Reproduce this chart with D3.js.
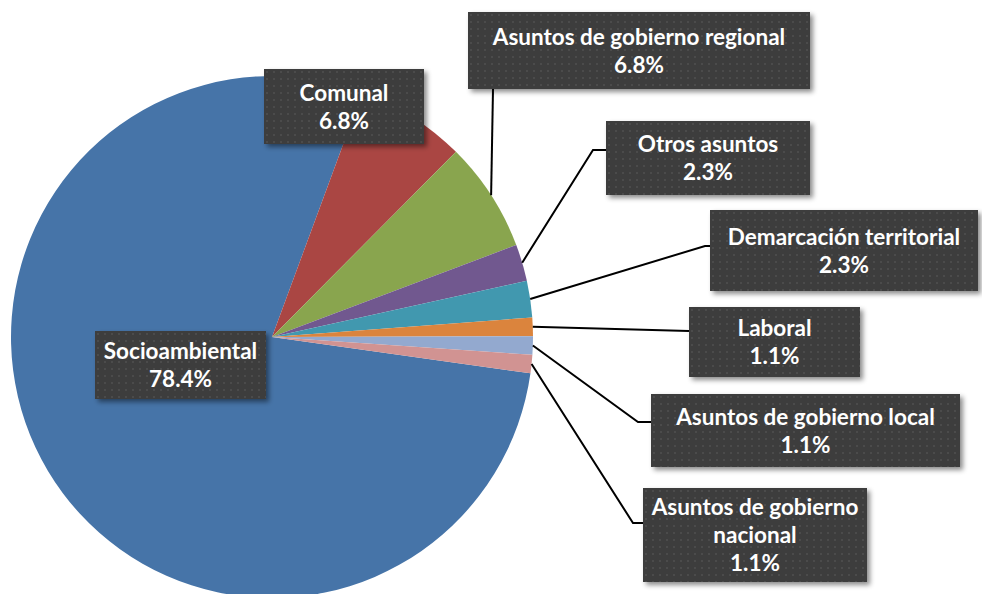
<!DOCTYPE html>
<html>
<head>
<meta charset="utf-8">
<script src="https://cdn.jsdelivr.net/npm/d3@7"></script>
<style>
  body { margin: 0; background: #fff; }
  svg { display: block; }
  .lbl text { font-family: Lato, "Open Sans", sans-serif; font-weight: 700; fill: #fff; }
</style>
</head>
<body>
<svg id="drawing_region"></svg>
<script>
// datos: número de conflictos por tipo (total 88)
const categories = [
  "Socioambiental", "Comunal", "Asuntos de gobierno regional", "Otros asuntos",
  "Demarcación territorial", "Laboral", "Asuntos de gobierno local", "Asuntos de gobierno nacional"
];
const counts = [69, 6, 6, 2, 2, 1, 1, 1];
const colors = ["#4674a8", "#aa4643", "#89a54e", "#71588f", "#4198af", "#db843d", "#93a9cf", "#d19392"];

// posición de las cajas de etiquetas (x, y, ancho, alto) y codo de la línea guía
const boxes = [
  {x: 95,  y: 331, w: 171, h: 68, line: false},
  {x: 264, y: 69,  w: 160, h: 75, line: false},
  {x: 468, y: 12,  w: 342, h: 77, elbow: [493, 89]},
  {x: 606, y: 121, w: 204, h: 74, elbow: [593, 150]},
  {x: 710, y: 210, w: 268, h: 81, elbow: [705, 246]},
  {x: 689, y: 307, w: 171, h: 70, elbow: [689, 331]},
  {x: 651, y: 394, w: 309, h: 73, elbow: [638, 422]},
  {x: 643, y: 488, w: 224, h: 94, elbow: [633, 523]}
];

const W = 982, H = 594;
const cx = 272, cy = 337, r = 261;
const total = d3.sum(counts);
const fmt = d3.format(".1%");

const svg = d3.select("#drawing_region").attr("width", W).attr("height", H);
const defs = svg.append("defs");

// textura punteada de las cajas
const pat = defs.append("pattern").attr("id", "dots")
  .attr("width", 7).attr("height", 7).attr("patternUnits", "userSpaceOnUse");
pat.append("rect").attr("width", 7).attr("height", 7).attr("fill", "#3e3e3e");
pat.append("rect").attr("x", 2).attr("y", 2).attr("width", 2).attr("height", 2).attr("fill", "#4b4b4b");

const shadow = defs.append("filter").attr("id", "shadow")
  .attr("x", "-10%").attr("y", "-10%").attr("width", "130%").attr("height", "140%");
shadow.append("feDropShadow").attr("dx", 3).attr("dy", 3).attr("stdDeviation", 2.5)
  .attr("flood-color", "#000").attr("flood-opacity", 0.45);

const data = categories.map((c, i) => ({name: c, value: counts[i], color: colors[i], box: boxes[i]}));

const start = 98 * Math.PI / 180;
const pie = d3.pie().value(d => d.value).sort(null)
  .startAngle(start).endAngle(start + 2 * Math.PI);
const arc = d3.arc().innerRadius(0).outerRadius(r);
const arcs = pie(data);

const g = svg.append("g").attr("transform", `translate(${cx},${cy})`);

g.selectAll("path.slice")
  .data(arcs)
  .enter()
  .append("path")
  .attr("class", "slice")
  .attr("d", arc)
  .attr("fill", d => d.data.color);

// líneas guía
svg.selectAll("polyline.leader")
  .data(arcs.filter(d => d.data.box.line !== false))
  .enter()
  .append("polyline")
  .attr("class", "leader")
  .attr("fill", "none")
  .attr("stroke", "#000")
  .attr("stroke-width", 2)
  .attr("points", d => {
    const a = (d.startAngle + d.endAngle) / 2;
    const p0 = [cx + r * Math.sin(a), cy - r * Math.cos(a)];
    const b = d.data.box;
    const e = d.data.box.elbow;
    const p2 = e[1] >= b.y + b.h ? e : [b.x, e[1]];
    return [p0, e, p2].map(p => p.join(",")).join(" ");
  });

// etiquetas
const fs = 22.5, lh = 28;
const lbl = svg.selectAll("g.lbl")
  .data(arcs)
  .enter()
  .append("g")
  .attr("class", "lbl")
  .attr("transform", d => `translate(${d.data.box.x},${d.data.box.y})`);

lbl.append("rect")
  .attr("width", d => d.data.box.w)
  .attr("height", d => d.data.box.h)
  .attr("fill", "url(#dots)")
  .attr("filter", "url(#shadow)");

lbl.each(function(d) {
  const sel = d3.select(this);
  const b = d.data.box;
  // partir el nombre si no cabe en la caja
  const words = d.data.name.split(" ");
  const lines = [];
  let cur = [];
  const probe = sel.append("text").attr("font-size", fs);
  words.forEach(w => {
    const tryLine = cur.concat([w]).join(" ");
    probe.text(tryLine);
    if (probe.node().getComputedTextLength() > b.w - 12 && cur.length) {
      lines.push(cur.join(" "));
      cur = [w];
    } else {
      cur.push(w);
    }
  });
  lines.push(cur.join(" "));
  probe.remove();
  lines.push(fmt(d.data.value / total));

  const n = lines.length;
  const firstBase = b.h / 2 - (n - 1) * lh / 2 + fs * 0.36;
  sel.selectAll("text.t")
    .data(lines)
    .enter()
    .append("text")
    .attr("class", "t")
    .attr("x", b.w / 2)
    .attr("y", (t, i) => firstBase + i * lh)
    .attr("text-anchor", "middle")
    .attr("font-size", fs)
    .text(t => t);
});
</script>
</body>
</html>
